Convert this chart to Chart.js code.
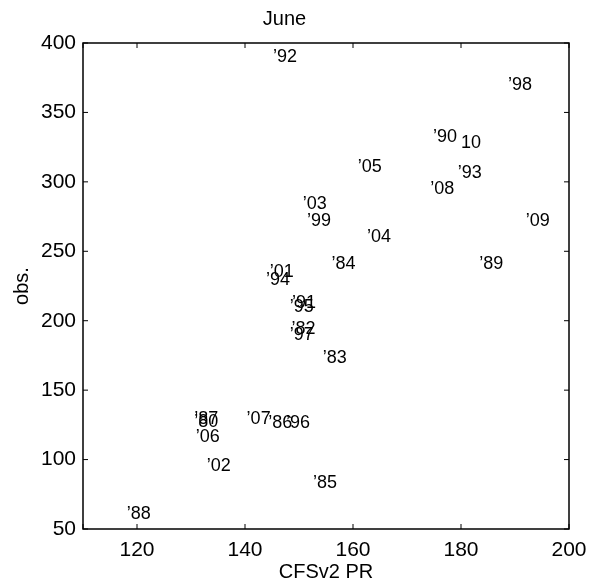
<!DOCTYPE html>
<html>
<head>
<meta charset="utf-8">
<title>June</title>
<script src="https://cdn.jsdelivr.net/npm/chart.js@4/dist/chart.umd.min.js"></script>
<style>
  html, body { margin: 0; padding: 0; background: #fff; }
  #wrap { width: 589px; height: 584px; }
</style>
</head>
<body>
<div id="wrap"><canvas id="chartJune"></canvas></div>
<script>
/* ---- Data ---- */
const yearLabels = ['’92','’98','’90','10','’93','’08','’09','’89','’05','’03','’99','’04','’84','’01','’94',
                    '’91','’95','’82','’97','’83','’87','’80','’06','’07','’86','’96','’02','’85','’88'];
const cfsValues  = [145.2, 188.7, 174.8, 180.0, 179.4, 174.3, 192.0, 183.4, 160.9, 150.7, 151.5, 162.6, 156.0, 144.6, 143.9,
                    148.7, 148.3, 148.6, 148.3, 154.4, 130.6, 130.6, 130.9, 140.3, 144.3, 147.6, 132.9, 152.6, 118.1];
const obsValues  = [390, 370, 332, 328, 306, 295, 272, 241, 311, 284, 272, 260, 241, 235, 229,
                    213, 210, 194, 190, 173, 129, 127, 116, 129, 126, 126, 95, 83, 61];
const xTicks = [110, 120, 140, 160, 180, 200];
const yTicks = [50, 100, 150, 200, 250, 300, 350, 400];

const FONT = "'Liberation Sans', Arial, Helvetica, sans-serif";

/* Text labels placed at each point (MATLAB text(): left / middle) */
const yearTextPlugin = {
  id: 'yearText',
  afterDatasetsDraw(chart) {
    const { ctx, scales: { x, y } } = chart;
    ctx.save();
    ctx.fillStyle = '#000';
    ctx.font = '18px ' + FONT;
    ctx.textAlign = 'left';
    ctx.textBaseline = 'middle';
    yearLabels.forEach((lbl, i) => {
      ctx.fillText(lbl, x.getPixelForValue(cfsValues[i]), y.getPixelForValue(obsValues[i]));
    });
    ctx.restore();
  }
};

/* Box + inward ticks on all four sides */
const boxPlugin = {
  id: 'boxTicks',
  afterDraw(chart) {
    const { ctx, chartArea: a, scales: { x, y } } = chart;
    const len = 5;
    ctx.save();
    ctx.strokeStyle = '#000';
    ctx.lineWidth = 1.5;
    ctx.strokeRect(a.left, a.top, a.right - a.left, a.bottom - a.top);
    ctx.lineWidth = 1;
    ctx.beginPath();
    x.ticks.forEach(t => {
      const px = x.getPixelForValue(t.value);
      ctx.moveTo(px, a.bottom); ctx.lineTo(px, a.bottom - len);
      ctx.moveTo(px, a.top);    ctx.lineTo(px, a.top + len);
    });
    y.ticks.forEach(t => {
      const py = y.getPixelForValue(t.value);
      ctx.moveTo(a.left, py);  ctx.lineTo(a.left + len, py);
      ctx.moveTo(a.right, py); ctx.lineTo(a.right - len, py);
    });
    ctx.stroke();
    ctx.restore();
  }
};

const ctx = document.getElementById('chartJune').getContext('2d');
new Chart(ctx, {
  type: 'scatter',
  data: {
    datasets: [{
      data: cfsValues.map((v, i) => ({ x: v, y: obsValues[i] })),
      pointRadius: 0,
      pointHoverRadius: 0,
    }],
  },
  options: {
    responsive: true,
    maintainAspectRatio: false,
    animation: false,
    events: [],
    layout: { padding: { right: 20 } },
    plugins: {
      legend: { display: false },
      tooltip: { enabled: false },
      title: {
        display: true,
        text: 'June',
        color: '#000',
        font: { family: FONT, size: 20, weight: 'normal' },
        padding: { top: 7, bottom: 12 },
      },
    },
    scales: {
      x: {
        type: 'linear',
        min: 110, max: 200,
        afterBuildTicks: s => { s.ticks = xTicks.map(v => ({ value: v })); },
        afterFit: s => { s.height = 55; s.paddingLeft = 0; s.paddingRight = 0; },
        grid: { display: false, drawTicks: false },
        border: { display: false },
        ticks: {
          color: '#000',
          padding: 9,
          font: { family: FONT, size: 21 },
          callback: v => (v === 110 ? '' : v),
        },
        title: {
          display: true,
          text: 'CFSv2 PR',
          color: '#000',
          font: { family: FONT, size: 20 },
          padding: { top: 0, bottom: 0 },
        },
      },
      y: {
        type: 'linear',
        min: 50, max: 400,
        afterBuildTicks: s => { s.ticks = yTicks.map(v => ({ value: v })); },
        afterFit: s => { s.width = 83; s.paddingTop = 0; s.paddingBottom = 0; },
        grid: { display: false, drawTicks: false },
        border: { display: false },
        ticks: {
          color: '#000',
          padding: 7,
          font: { family: FONT, size: 21 },
        },
        title: {
          display: true,
          text: 'obs.',
          color: '#000',
          font: { family: FONT, size: 20 },
          padding: { top: 10, bottom: 0 },
        },
      },
    },
  },
  plugins: [yearTextPlugin, boxPlugin],
});
</script>
</body>
</html>
